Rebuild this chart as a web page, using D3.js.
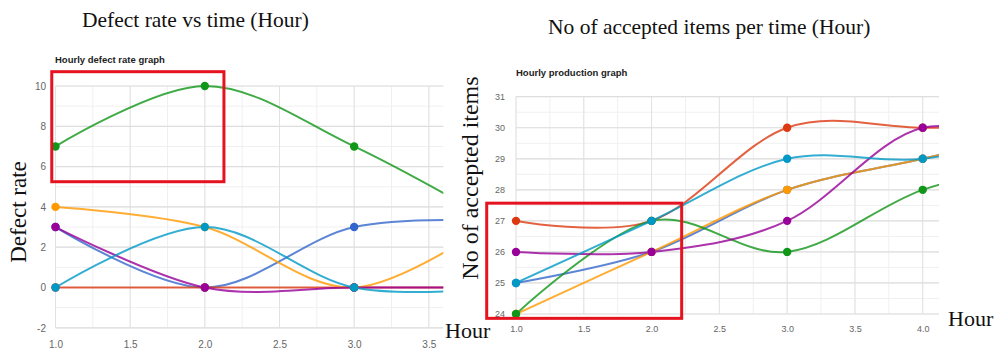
<!DOCTYPE html>
<html><head><meta charset="utf-8">
<script src="https://cdnjs.cloudflare.com/ajax/libs/d3/7.8.5/d3.min.js"></script>
<style>
html,body{margin:0;padding:0;background:#fff;}
svg{display:block;}
</style></head>
<body>
<svg id="c" width="1000" height="349"></svg>
<script>
// ---- data ----
const seriesNames = ["Series 1","Series 2","Series 3","Series 4","Series 5","Series 6"];
const seriesColors = ["#3366cc","#dc3912","#ff9900","#109618","#990099","#0099c6"];

// Left chart: hourly defect rate
const defectHours = [1, 2, 3, 4];
const defectBlue   = [3, 0, 3, 3.3];
const defectRed    = [0, 0, 0, 0];
const defectOrange = [4, 3, 0, 3.6];
const defectGreen  = [7, 10, 7, 3];
const defectPurple = [3, 0, 0, 0];
const defectCyan   = [0, 3, 0, 0];
const defectXTicks = [1.0, 1.5, 2.0, 2.5, 3.0, 3.5];
const defectYTicks = [-2, 0, 2, 4, 6, 8, 10];
const defectBox = {x: [0.975, 2.128], y: [5.25, 10.71]};

// Right chart: hourly production
const prodHours = [1, 2, 3, 4, 5];
const prodBlue   = [25, 26, 28, 29, 30];
const prodRed    = [27, 27, 30, 30, 30];
const prodOrange = [24, 26, 28, 29, 30];
const prodGreen  = [24, 27, 26, 28, 29];
const prodPurple = [26, 26, 27, 30, 29];
const prodCyan   = [25, 27, 29, 29, 30];
const prodXTicks = [1.0, 1.5, 2.0, 2.5, 3.0, 3.5, 4.0];
const prodYTicks = [24, 25, 26, 27, 28, 29, 30, 31];
const prodBox = {x: [0.784, 2.222], y: [23.86, 27.57]};

const svg = d3.select("#c");
const serif = "'Liberation Serif', 'DejaVu Serif', serif";
const sans = "'Liberation Sans', Arial, sans-serif";

function drawChart(cfg){
  const g = svg.append("g");
  const x = d3.scaleLinear().domain(cfg.xDomain).range(cfg.xRange);
  const y = d3.scaleLinear().domain(cfg.yDomain).range(cfg.yRange);
  const [x0,x1] = cfg.xRange, [y0,y1] = [cfg.yRange[1], cfg.yRange[0]];

  // minor grid
  const minorX = d3.range(cfg.xDomain[0], cfg.xDomain[1]+1e-9, cfg.xMinor);
  const minorY = d3.range(cfg.yDomain[0], cfg.yDomain[1]+1e-9, cfg.yMinor);
  g.append("g").selectAll("line").data(minorX).join("line")
    .attr("x1",d=>x(d)).attr("x2",d=>x(d)).attr("y1",y0).attr("y2",y1)
    .attr("stroke","#f0f0f0").attr("stroke-width",1);
  g.append("g").selectAll("line").data(minorY).join("line")
    .attr("x1",x0).attr("x2",x1).attr("y1",d=>y(d)).attr("y2",d=>y(d))
    .attr("stroke","#f0f0f0").attr("stroke-width",1);
  // major grid
  g.append("g").selectAll("line").data(cfg.xTicks).join("line")
    .attr("x1",d=>x(d)).attr("x2",d=>x(d)).attr("y1",y0).attr("y2",y1)
    .attr("stroke","#e2e2e2").attr("stroke-width",1);
  g.append("g").selectAll("line").data(cfg.yTicks).join("line")
    .attr("x1",x0).attr("x2",x1).attr("y1",d=>y(d)).attr("y2",d=>y(d))
    .attr("stroke","#dedede").attr("stroke-width",1.2);

  // axes tick labels via d3 axes
  const xAxis = d3.axisBottom(x).tickValues(cfg.xTicks).tickFormat(d3.format(".1f")).tickSize(0).tickPadding(0);
  const xa = g.append("g").attr("transform",`translate(0,${cfg.xLabelY})`).call(xAxis);
  xa.select(".domain").remove();
  xa.selectAll("text").attr("fill","#666").attr("font-family",sans).attr("font-size",cfg.tickSize).attr("dy","0");
  const yAxis = d3.axisLeft(y).tickValues(cfg.yTicks).tickFormat(d=>String(d)).tickSize(0).tickPadding(0);
  const ya = g.append("g").attr("transform",`translate(${cfg.yLabelX},0)`).call(yAxis);
  ya.select(".domain").remove();
  ya.selectAll("text").attr("fill","#666").attr("font-family",sans).attr("font-size",cfg.tickSize);

  // clip
  const cid = "clip"+cfg.id;
  svg.append("defs").append("clipPath").attr("id",cid).append("rect")
    .attr("x",x0).attr("y",y0-8).attr("width",x1-x0).attr("height",y1-y0+16);

  const line = d3.line().x((d,i)=>x(cfg.xs[i])).y(d=>y(d)).curve(d3.curveCardinal.tension(0));
  const lg = g.append("g").attr("clip-path",`url(#${cid})`);
  cfg.series.forEach((s,k)=>{
    lg.append("path").attr("d",line(s)).attr("fill","none")
      .attr("stroke",seriesColors[k]).attr("stroke-width",2).attr("stroke-opacity",0.8);
  });
  svg.append("defs").append("clipPath").attr("id",cid+"d").append("rect")
    .attr("x",x0-6).attr("y",y0-8).attr("width",x1-x0+8).attr("height",y1-y0+16);
  const dg = g.append("g").attr("clip-path",`url(#${cid}d)`);
  cfg.series.forEach((s,k)=>{
    dg.selectAll(null).data(s.map((v,i)=>[cfg.xs[i],v]).filter(p=>p[0]<=cfg.xDomain[1])).join("circle")
      .attr("cx",p=>x(p[0])).attr("cy",p=>y(p[1])).attr("r",4.2)
      .attr("fill",seriesColors[k]);
  });

  // highlight box
  g.append("rect")
    .attr("x",x(cfg.box.x[0])).attr("y",y(cfg.box.y[1]))
    .attr("width",x(cfg.box.x[1])-x(cfg.box.x[0]))
    .attr("height",y(cfg.box.y[0])-y(cfg.box.y[1]))
    .attr("fill","none").attr("stroke","#e5121f").attr("stroke-width",3);

  // small chart title
  g.append("text").attr("x",cfg.subX).attr("y",cfg.subY).text(cfg.subtitle)
    .attr("font-family",sans).attr("font-weight","bold").attr("font-size",9.5).attr("fill","#222");
  return {x,y};
}

drawChart({
  id:"L", xs:defectHours,
  series:[defectBlue,defectRed,defectOrange,defectGreen,defectPurple,defectCyan],
  xDomain:[1,3.597], xRange:[55.5,443.3], yDomain:[-2,10], yRange:[327.8,86],
  xTicks:defectXTicks, yTicks:defectYTicks, xMinor:0.25, yMinor:1,
  xLabelY:348, yLabelX:46, tickSize:10,
  box:defectBox, subtitle:"Hourly defect rate graph", subX:55, subY:63
});
drawChart({
  id:"R", xs:prodHours,
  series:[prodBlue,prodRed,prodOrange,prodGreen,prodPurple,prodCyan],
  xDomain:[1,4.12], xRange:[516,939], yDomain:[24,31], yRange:[314,96.7],
  xTicks:prodXTicks, yTicks:prodYTicks, xMinor:0.25, yMinor:0.5,
  xLabelY:332, yLabelX:505, tickSize:9,
  box:prodBox, subtitle:"Hourly production graph", subX:516, subY:76
});

// big titles and axis labels
svg.append("text").attr("x",82).attr("y",27).text("Defect rate vs time (Hour)")
  .attr("font-family",serif).attr("font-size",21.5).attr("fill","#111");
svg.append("text").attr("x",548).attr("y",34).text("No of accepted items per time (Hour)")
  .attr("font-family",serif).attr("font-size",21.5).attr("fill","#111");
svg.append("text").attr("transform","translate(26,212) rotate(-90)").attr("text-anchor","middle")
  .text("Defect rate").attr("font-family",serif).attr("font-size",23).attr("fill","#111");
svg.append("text").attr("transform","translate(478,178) rotate(-90)").attr("text-anchor","middle")
  .text("No of accepted items").attr("font-family",serif).attr("font-size",24).attr("fill","#111");
svg.append("text").attr("x",445).attr("y",338).text("Hour")
  .attr("font-family",serif).attr("font-size",22).attr("fill","#111");
svg.append("text").attr("x",948).attr("y",326).text("Hour")
  .attr("font-family",serif).attr("font-size",22).attr("fill","#111");
</script>
</body></html>
